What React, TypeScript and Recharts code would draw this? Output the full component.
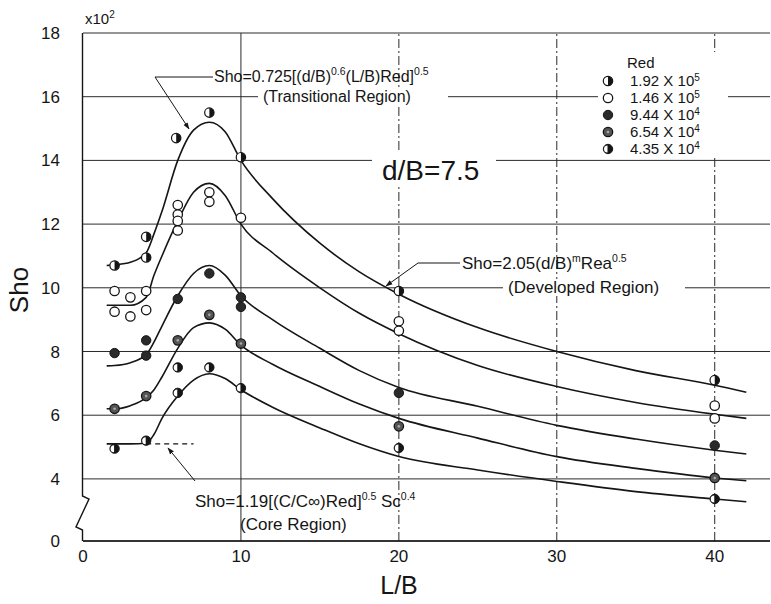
import { CartesianGrid, ComposedChart, Line, ReferenceLine, Scatter, XAxis, YAxis } from 'recharts';

const FONT = '"Liberation Sans", "DejaVu Sans", sans-serif';
const INK = '#151515';

const X_TICKS = [0, 10, 20, 30, 40];
const Y_BREAK = 2.05; // bottom of the broken axis, labelled 0
const Y_TICKS = [Y_BREAK, 4, 6, 8, 10, 12, 14, 16, 18];
const V_GRID = [10, 20, 30, 40];

// fitted curves, one per Red
const CURVE_X = [1.5, 2, 3, 4, 4.5, 5, 6, 7, 8, 9, 10, 12, 15, 17.5, 20, 25, 30, 35, 40, 42];
const CURVE_1 = [10.7, 10.72, 10.8, 11.1, 11.7, 12.4, 14.0, 14.95, 15.2, 14.9, 14.0, 12.8, 11.4, 10.5, 9.8, 8.75, 8.0, 7.4, 6.94, 6.72];
const CURVE_2 = [9.45, 9.45, 9.45, 9.7, 10.4, 11.0, 12.1, 13.0, 13.28, 12.9, 12.0, 11.1, 10.0, 9.2, 8.56, 7.56, 6.9, 6.4, 6.03, 5.9];
const CURVE_3 = [7.55, 7.56, 7.65, 7.9, 8.3, 8.8, 9.75, 10.45, 10.7, 10.4, 9.75, 9.0, 8.1, 7.4, 6.87, 6.28, 5.68, 5.25, 4.9, 4.78];
const CURVE_4 = [6.2, 6.2, 6.3, 6.55, 6.8, 7.2, 8.1, 8.75, 8.9, 8.7, 8.2, 7.6, 6.9, 6.35, 5.9, 5.28, 4.7, 4.33, 4.03, 3.94];
const CURVE_5 = [5.1, 5.1, 5.1, 5.12, 5.4, 5.9, 6.6, 7.1, 7.3, 7.15, 6.8, 6.25, 5.6, 5.1, 4.7, 4.28, 3.92, 3.6, 3.37, 3.28];
const CORE_X = [4, 7];
const CORE_Y = [5.1, 5.1];

// measured points
const S1_X = [2, 4, 4, 5.9, 8, 10, 20, 40];
const S1_Y = [10.7, 10.95, 11.6, 14.7, 15.5, 14.1, 9.9, 7.1];
const S2_X = [2, 2, 3, 3, 4, 4, 6, 6, 6, 6, 8, 8, 10, 20, 20, 40, 40];
const S2_Y = [9.9, 9.25, 9.7, 9.1, 9.9, 9.3, 12.6, 12.3, 12.1, 11.8, 13.0, 12.7, 12.2, 8.95, 8.65, 6.3, 5.9];
const S3_X = [2, 4, 4, 6, 8, 10, 10, 20, 40];
const S3_Y = [7.95, 8.35, 7.87, 9.65, 10.45, 9.7, 9.4, 6.7, 5.05];
const S4_X = [2, 4, 6, 8, 10, 20, 40];
const S4_Y = [6.2, 6.6, 8.35, 9.15, 8.25, 5.65, 4.03];
const S5_X = [2, 4, 6, 6, 8, 10, 20, 40];
const S5_Y = [4.95, 5.2, 7.5, 6.7, 7.5, 6.85, 4.97, 3.37];

const RE_MANTISSA = ['1.92', '1.46', '9.44', '6.54', '4.35'];
const RE_EXP = ['5', '5', '4', '4', '4'];

const zip = (xs: number[], ys: number[]) => xs.map((x, i) => ({ x, y: ys[i] }));

const R = 4.7;
type Dot = { cx?: number; cy?: number };

const HalfRight = ({ cx = 0, cy = 0 }: Dot) => (
  <g>
    <circle cx={cx} cy={cy} r={R} fill="#fff" stroke={INK} strokeWidth={1.2} />
    <path d={`M${cx} ${cy - R} A${R} ${R} 0 0 1 ${cx} ${cy + R} Z`} fill={INK} />
  </g>
);
const Open = ({ cx = 0, cy = 0 }: Dot) => (
  <circle cx={cx} cy={cy} r={R} fill="#fff" stroke={INK} strokeWidth={1.3} />
);
const Solid = ({ cx = 0, cy = 0 }: Dot) => (
  <circle cx={cx} cy={cy} r={R} fill="#2a2a2a" stroke={INK} strokeWidth={1} />
);
const Hatched = ({ cx = 0, cy = 0 }: Dot) => (
  <g>
    <circle cx={cx} cy={cy} r={R} fill="#555" stroke={INK} strokeWidth={1.3} />
    <circle cx={cx} cy={cy} r={1.3} fill="#aaa" />
  </g>
);
const HalfLeft = ({ cx = 0, cy = 0 }: Dot) => (
  <g>
    <circle cx={cx} cy={cy} r={R} fill={INK} stroke={INK} strokeWidth={1} />
    <path d={`M${cx - 0.5} ${cy - R + 1.2} A${R - 1.2} ${R - 1.2} 0 0 0 ${cx - 0.5} ${cy + R - 1.2} Z`} fill="#fff" />
  </g>
);

const SERIES = [
  { points: zip(S1_X, S1_Y), curve: CURVE_1, Shape: HalfRight },
  { points: zip(S2_X, S2_Y), curve: CURVE_2, Shape: Open },
  { points: zip(S3_X, S3_Y), curve: CURVE_3, Shape: Solid },
  { points: zip(S4_X, S4_Y), curve: CURVE_4, Shape: Hatched },
  { points: zip(S5_X, S5_Y), curve: CURVE_5, Shape: HalfLeft },
];

function Sup({ children, up = 7 }: { children: string; up?: number }) {
  return (
    <tspan dy={-up} fontSize={10.5}>
      {children}
    </tspan>
  );
}

function Overlay() {
  const t = { fontFamily: FONT, fill: INK } as const;
  return (
    <svg width={771} height={604} style={{ position: 'absolute', left: 0, top: 0, pointerEvents: 'none' }}>
      <defs>
        <marker id="tip" viewBox="0 0 10 10" refX="9" refY="5" markerWidth="7" markerHeight="7" orient="auto">
          <path d="M0 1.5 L10 5 L0 8.5 Z" fill={INK} />
        </marker>
      </defs>

      {/* paper showing through the grid behind the notes */}
      <rect x={258} y={88} width={190} height={17} fill="#fff" />
      <rect x={372} y={152} width={124} height={34} fill="#fff" />
      <rect x={503} y={279} width={182} height={17} fill="#fff" />
      <rect x={598} y={52} width={130} height={104} fill="#fff" />

      {/* broken y axis */}
      <path d="M82.5 33 V496 L89 499 L76 527 L82.5 530 V541" fill="none" stroke={INK} strokeWidth={1.4} />

      <text x={85} y={24} fontSize={15} {...t}>
        x10<tspan dy={-6} fontSize={10}>2</tspan>
      </text>
      <text x={21} y={290} fontSize={26} textAnchor="middle" transform="rotate(-90 21 290)" {...t} dominantBaseline="middle">
        Sho
      </text>
      <text x={399} y={594} fontSize={25} textAnchor="middle" {...t}>
        L/B
      </text>

      {/* transitional */}
      <polyline points="213,77 155,77 189,129" fill="none" stroke={INK} strokeWidth={1} markerEnd="url(#tip)" />
      <text x={214} y={82} fontSize={16} {...t}>
        Sho=0.725[(d/B)<Sup>0.6</Sup>
        <tspan dy={7}>(L/B)Red]</tspan>
        <Sup>0.5</Sup>
      </text>
      <text x={263} y={102} fontSize={16} {...t}>
        (Transitional Region)
      </text>

      {/* developed */}
      <polyline points="460,263 418,263 386,286" fill="none" stroke={INK} strokeWidth={1} markerEnd="url(#tip)" />
      <text x={462} y={269} fontSize={17} {...t}>
        Sho=2.05(d/B)<Sup>m</Sup>
        <tspan dy={7}>Rea</tspan>
        <Sup>0.5</Sup>
      </text>
      <text x={508} y={293} fontSize={17} {...t}>
        (Developed Region)
      </text>

      {/* core */}
      <line x1={195} y1={481} x2={168} y2={448} stroke={INK} strokeWidth={1} markerEnd="url(#tip)" />
      <text x={195} y={507} fontSize={17} {...t}>
        Sho=1.19[(C/C∞)Red]<Sup>0.5</Sup>
        <tspan dy={7}> Sc</tspan>
        <Sup>0.4</Sup>
      </text>
      <text x={240} y={530} fontSize={17} {...t}>
        (Core Region)
      </text>

      <text x={382} y={180} fontSize={28} {...t}>
        d/B=7.5
      </text>

      {/* legend */}
      <text x={627} y={68} fontSize={15} {...t}>
        Red
      </text>
      {SERIES.map(({ Shape }, i) => {
        const y = 81 + i * 17;
        return (
          <g key={RE_MANTISSA[i]}>
            <Shape cx={608} cy={y} />
            <text x={630} y={y + 5} fontSize={15} {...t}>
              {RE_MANTISSA[i]} X 10<tspan dy={-5} fontSize={10}>{RE_EXP[i]}</tspan>
            </text>
          </g>
        );
      })}
    </svg>
  );
}

export default function App() {
  const tick = { fontSize: 17, fill: INK, fontFamily: FONT };
  return (
    <div style={{ position: 'absolute', left: 0, top: 0, width: 771, height: 604, background: '#fff' }}>
      <ComposedChart width={771} height={604} margin={{ top: 33, right: 1, bottom: 23, left: 0 }}>
        <CartesianGrid vertical={false} horizontalValues={Y_TICKS} stroke="#2a2a2a" strokeWidth={1} />
        <XAxis
          type="number"
          dataKey="x"
          domain={[0, 43.5]}
          ticks={X_TICKS}
          allowDataOverflow
          height={40}
          tickSize={0}
          tickMargin={9}
          axisLine={{ stroke: INK, strokeWidth: 1.4 }}
          tick={tick}
        />
        <YAxis
          type="number"
          domain={[Y_BREAK, 18]}
          ticks={Y_TICKS}
          allowDataOverflow
          width={83}
          tickSize={0}
          tickMargin={23}
          axisLine={false}
          tick={tick}
          tickFormatter={(v: number) => (v < 3 ? '0' : String(v))}
        />
        {V_GRID.map((x) => (
          <ReferenceLine
            key={x}
            x={x}
            stroke="#2a2a2a"
            strokeDasharray={x === 10 ? undefined : '9 3 2 3'}
            strokeWidth={1}
          />
        ))}
        {SERIES.map(({ curve }, i) => (
          <Line
            key={`c${i}`}
            data={zip(CURVE_X, curve)}
            dataKey="y"
            type="monotone"
            stroke={INK}
            strokeWidth={1.6}
            dot={false}
            activeDot={false}
            isAnimationActive={false}
          />
        ))}
        <Line
          data={zip(CORE_X, CORE_Y)}
          dataKey="y"
          type="linear"
          stroke={INK}
          strokeWidth={1.2}
          strokeDasharray="5 4"
          dot={false}
          activeDot={false}
          isAnimationActive={false}
        />
        {SERIES.map(({ points, Shape }, i) => (
          <Scatter
            key={`s${i}`}
            data={points}
            dataKey="y"
            shape={(p: Dot) => <Shape cx={p.cx} cy={p.cy} />}
            isAnimationActive={false}
          />
        ))}
      </ComposedChart>
      <Overlay />
    </div>
  );
}
